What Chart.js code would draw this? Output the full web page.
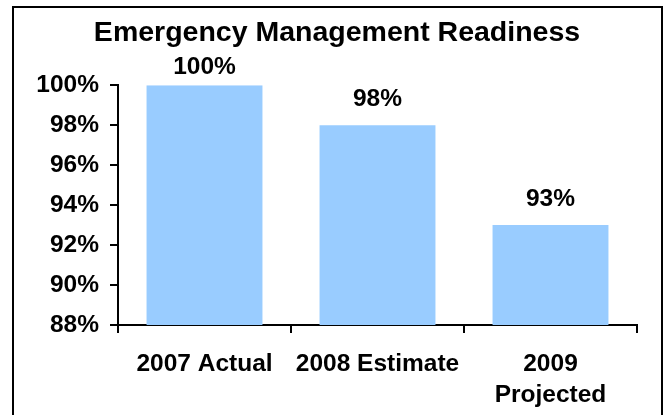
<!DOCTYPE html>
<html>
<head>
<meta charset="utf-8">
<style>
  html, body { margin: 0; padding: 0; background: #ffffff; }
  #wrap { width: 665px; height: 415px; position: relative; }
</style>
<script src="https://cdn.jsdelivr.net/npm/chart.js@4.4.1/dist/chart.umd.min.js"></script>
</head>
<body>
<div id="wrap"><canvas id="c" width="665" height="415"></canvas></div>
<script>
const categories = ['2007 Actual', '2008 Estimate', ['2009', 'Projected']];
const readiness = [100, 98, 93];
const yTicks = [88, 90, 92, 94, 96, 98, 100];
const titleText = 'Emergency Management Readiness';

const FONT = "'Liberation Sans', Arial, sans-serif";

const framePlugin = {
  id: 'frame',
  beforeDraw(chart) {
    const ctx = chart.ctx;
    ctx.save();
    ctx.fillStyle = '#ffffff';
    ctx.fillRect(0, 0, chart.width, chart.height);
    ctx.strokeStyle = '#000000';
    ctx.lineWidth = 2;
    ctx.strokeRect(13, 7, 649, 440);
    ctx.restore();
  }
};

const labelPlugin = {
  id: 'valueLabels',
  afterDatasetsDraw(chart) {
    const ctx = chart.ctx;
    const meta = chart.getDatasetMeta(0);
    const area = chart.chartArea;
    ctx.save();
    ctx.fillStyle = '#000000';
    ctx.font = 'bold 24.5px ' + FONT;
    ctx.textAlign = 'center';
    ctx.textBaseline = 'alphabetic';
    meta.data.forEach((bar, i) => {
      const y = Math.max(bar.y - 19, area.top - 11);
      ctx.fillText(readiness[i] + '%', bar.x, y);
    });
    ctx.restore();
  }
};

new Chart(document.getElementById('c'), {
  type: 'bar',
  data: {
    labels: categories,
    datasets: [{
      data: readiness,
      backgroundColor: '#99CCFF',
      borderWidth: 0,
      barPercentage: 0.67,
      categoryPercentage: 1.0
    }]
  },
  options: {
    responsive: false,
    animation: false,
    events: [],
    layout: { padding: { left: 37, right: 28, top: 0, bottom: 0 } },
    plugins: {
      legend: { display: false },
      tooltip: { enabled: false },
      title: {
        display: true,
        text: titleText,
        color: '#000000',
        font: { family: FONT, size: 28.5, weight: 'bold', lineHeight: 1.2 },
        padding: { top: 16, bottom: 35 }
      }
    },
    scales: {
      x: {
        afterFit(s) { s.height = 90; },
        grid: {
          display: true,
          offset: true,
          drawOnChartArea: false,
          drawTicks: true,
          tickLength: 8,
          color: '#000000',
          lineWidth: 2
        },
        border: { display: true, color: '#000000', width: 2 },
        ticks: {
          color: '#000000',
          font: { family: FONT, size: 24.5, weight: 'bold', lineHeight: 1.25 },
          padding: 16,
          maxRotation: 0,
          autoSkip: false
        }
      },
      y: {
        min: 88,
        max: 100,
        afterFit(s) { s.width = 81; },
        afterBuildTicks(s) { s.ticks = yTicks.map(v => ({ value: v })); },
        grid: {
          display: true,
          drawOnChartArea: false,
          drawTicks: true,
          tickLength: 8,
          color: '#000000',
          lineWidth: 2
        },
        border: { display: true, color: '#000000', width: 2 },
        ticks: {
          color: '#000000',
          font: { family: FONT, size: 24.5, weight: 'bold' },
          padding: 11,
          callback: (v) => v + '%'
        }
      }
    }
  },
  plugins: [framePlugin, labelPlugin]
});
</script>
</body>
</html>
